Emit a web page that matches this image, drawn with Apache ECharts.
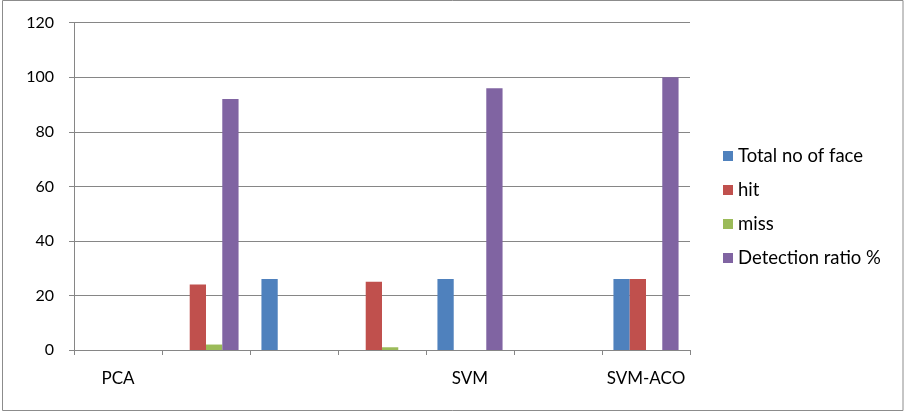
<!DOCTYPE html>
<html>
<head>
<meta charset="utf-8">
<script src="https://cdn.jsdelivr.net/npm/echarts@6/dist/echarts.min.js"></script>
<style>
html,body{margin:0;padding:0;background:#fff;}
#chart{width:906px;height:413px;}
</style>
</head>
<body>
<div id="chart"></div>
<script>
var categories = ['PCA', '', '', '', 'SVM', '', 'SVM-ACO'];
var seriesNames = ['Total no of face', 'hit', 'miss', 'Detection ratio %'];
var totalFaces = [0, 0, 26, 0, 26, 0, 26];
var hits = [0, 24, 0, 25, 0, 0, 26];
var misses = [0, 2, 0, 1, 0, 0, 0];
var detectionRatio = [0, 92, 0, 0, 96, 0, 100];
var yTicks = [0, 20, 40, 60, 80, 100, 120];

var colors = ['#4F81BD', '#C0504D', '#9BBB59', '#8064A2'];
var FONT = 'Lato, "Open Sans", sans-serif';
var values = [totalFaces, hits, misses, detectionRatio];

var chart = echarts.init(document.getElementById('chart'), null, {renderer: 'canvas'});
chart.setOption({
  animation: false,
  color: colors,
  textStyle: {fontFamily: FONT},
  graphic: [{
    type: 'rect',
    shape: {x: 2.5, y: 0.5, width: 900.5, height: 410},
    style: {fill: 'none', stroke: '#8c8c8c', lineWidth: 1},
    silent: true
  }],
  grid: {left: 74, right: 216, top: 22.7, bottom: 63, containLabel: false},
  legend: {
    orient: 'vertical',
    left: 718,
    top: 141,
    itemWidth: 10,
    itemHeight: 10,
    itemGap: 14,
    icon: 'rect',
    data: seriesNames,
    textStyle: {fontFamily: FONT, fontSize: 18.5, color: '#000', lineHeight: 20}
  },
  xAxis: {
    type: 'category',
    data: categories,
    boundaryGap: true,
    axisLine: {show: true, lineStyle: {color: '#868686', width: 1}},
    axisTick: {show: true, length: 5, alignWithLabel: false, lineStyle: {color: '#868686'}},
    axisLabel: {interval: 0, margin: 20, color: '#000', fontSize: 17, fontFamily: FONT}
  },
  yAxis: {
    type: 'value',
    min: yTicks[0],
    max: yTicks[yTicks.length - 1],
    interval: 20,
    axisLine: {show: true, lineStyle: {color: '#868686', width: 1}},
    axisTick: {show: true, length: 5, lineStyle: {color: '#868686'}},
    axisLabel: {margin: 20, color: '#000', fontSize: 16, fontFamily: FONT},
    splitLine: {show: true, lineStyle: {color: '#868686', width: 1}}
  },
  series: seriesNames.map(function (name, i) {
    return {
      name: name,
      type: 'bar',
      data: values[i],
      barGap: '0%',
      barCategoryGap: '26%',
      itemStyle: {color: colors[i]}
    };
  })
});
</script>
</body>
</html>
